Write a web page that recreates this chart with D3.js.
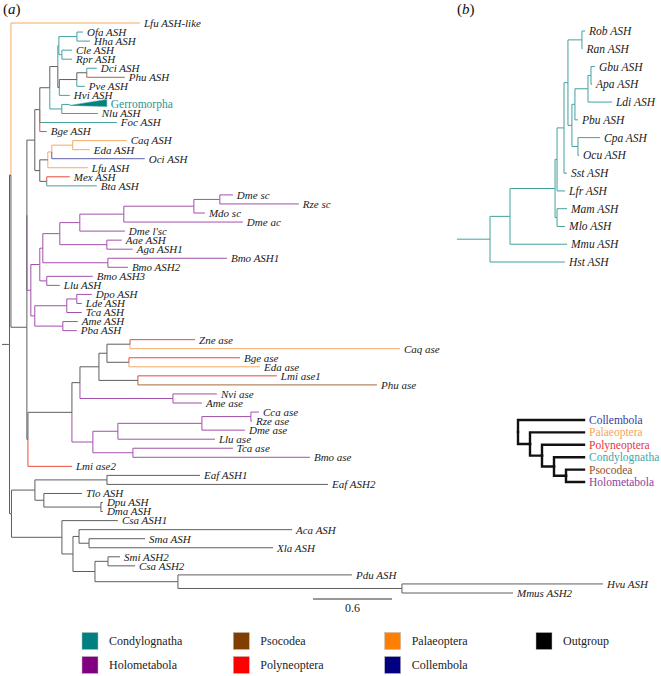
<!DOCTYPE html>
<html><head><meta charset="utf-8">
<script src="https://cdn.jsdelivr.net/npm/d3@7"></script>
<style>
body{margin:0;background:#fff;}
svg{display:block;}
text{font-family:"Liberation Serif","Times New Roman",Times,serif;}
</style></head><body>
<svg id="c" width="661" height="676" font-family="Liberation Serif, Times New Roman, serif"></svg>
<script>
// ================= DATA =================
// group codes: C Condylognatha, H Holometabola, P Psocodea, N Polyneoptera, L Palaeoptera, B Collembola, O Outgroup
// tree (a): [node, parent, branch length (subst./site), group]
const treeA = [
 ["rA","",0,"O"],
 ["n1","rA",0.011,"O"],
 ["Lfu ASH-like","n1",0.980,"L"],
 ["n2","n1",0.121,"O"],
 ["m","n2",0.000,"O"],
 ["i","m",0.060,"O"],
 ["p40","i",0.038,"O"],
 ["p50","p40",0.076,"O"],
 ["c1","p50",0.061,"O"],
 ["ohcr","c1",0.008,"C"],
 ["oh","ohcr",0.137,"C"],
 ["Ofa ASH","oh",0.046,"C"],
 ["Hha ASH","oh",0.099,"C"],
 ["cr","ohcr",0.023,"C"],
 ["Cle ASH","cr",0.076,"C"],
 ["Rpr ASH","cr",0.076,"C"],
 ["dpph","c1",0.011,"O"],
 ["dpp","dpph",0.133,"O"],
 ["dp","dpp",0.076,"O"],
 ["Dci ASH","dp",0.076,"C"],
 ["Phu ASH","dp",0.289,"P"],
 ["Pve ASH","dpp",0.061,"C"],
 ["Hvi ASH","dpph",0.080,"C"],
 ["gn","p50",0.091,"C"],
 ["Gerromorpha","gn",0.061,"C"],
 ["Nlu ASH","gn",0.273,"C"],
 ["Foc ASH","p40",0.585,"C"],
 ["Bge ASH","p40",0.053,"N"],
 ["q","i",0.038,"O"],
 ["l","q",0.061,"O"],
 ["ceo","l",0.030,"L"],
 ["ce","ceo",0.159,"L"],
 ["Caq ASH","ce",0.410,"L"],
 ["Eda ASH","ce",0.129,"L"],
 ["Oci ASH","ceo",0.706,"B"],
 ["Lfu ASH","l",0.304,"L"],
 ["mb","q",0.053,"O"],
 ["Mex ASH","mb",0.175,"N"],
 ["Bta ASH","mb",0.380,"C"],
 ["h","m",0.030,"H"],
 ["h1","h",0.068,"H"],
 ["h43","h1",0.023,"H"],
 ["h60","h43",0.129,"H"],
 ["h80","h60",0.152,"H"],
 ["h124","h80",0.334,"H"],
 ["drm","h124",0.532,"H"],
 ["dr","drm",0.197,"H"],
 ["Dme sc","dr",0.099,"H"],
 ["Rze sc","dr",0.600,"H"],
 ["Mdo sc","drm",0.084,"H"],
 ["Dme ac","h124",0.904,"H"],
 ["Dme l'sc","h80",0.342,"H"],
 ["aa","h60",0.357,"H"],
 ["Aae ASH","aa",0.114,"H"],
 ["Aga ASH1","aa",0.197,"H"],
 ["bb","h43",0.494,"H"],
 ["Bmo ASH1","bb",0.904,"H"],
 ["Bmo ASH2","bb",0.152,"H"],
 ["bl","h1",0.053,"H"],
 ["Bmo ASH3","bl",0.349,"H"],
 ["Llu ASH","bl",0.099,"H"],
 ["h2","h",0.030,"H"],
 ["dlt","h2",0.243,"H"],
 ["dl","dlt",0.076,"H"],
 ["Dpo ASH","dl",0.114,"H"],
 ["Lde ASH","dl",0.038,"H"],
 ["Tca ASH","dlt",0.114,"H"],
 ["ap","h2",0.213,"H"],
 ["Ame ASH","ap",0.114,"H"],
 ["Pba ASH","ap",0.106,"H"],
 ["al","n2",0.008,"O"],
 ["ase","al",0.334,"O"],
 ["x2","ase",0.061,"O"],
 ["x1","x2",0.144,"O"],
 ["zcbe","x1",0.061,"O"],
 ["zc","zcbe",0.175,"O"],
 ["Zne ase","zc",0.494,"N"],
 ["Caq ase","zc",2.050,"L"],
 ["be","zcbe",0.167,"O"],
 ["Bge ase","be",0.843,"N"],
 ["Eda ase","be",0.995,"L"],
 ["lp","x1",0.296,"O"],
 ["Lmi ase1","lp",1.055,"N"],
 ["Phu ase","lp",1.815,"P"],
 ["na","x2",0.706,"H"],
 ["Nvi ase","na",0.334,"H"],
 ["Ame ase","na",0.220,"H"],
 ["lo","ase",0.159,"H"],
 ["lcrdl","lo",0.190,"H"],
 ["crd","lcrdl",0.638,"H"],
 ["cr2","crd",0.372,"H"],
 ["Cca ase","cr2",0.061,"H"],
 ["Rze ase","cr2",0.008,"H"],
 ["Dme ase","crd",0.327,"H"],
 ["Llu ase","lcrdl",0.737,"H"],
 ["tb","lo",0.304,"H"],
 ["Tca ase","tb",0.759,"H"],
 ["Bmo ase","tb",1.344,"H"],
 ["Lmi ase2","al",0.334,"N"],
 ["o","rA",0.015,"O"],
 ["e","o",0.178,"O"],
 ["ee","e",0.547,"O"],
 ["Eaf ASH1","ee",0.706,"O"],
 ["Eaf ASH2","ee",1.678,"O"],
 ["t","e",0.068,"O"],
 ["Tlo ASH","t",0.289,"O"],
 ["dd","t",0.433,"O"],
 ["Dpu ASH","dd",0.015,"O"],
 ["Dma ASH","dd",0.015,"O"],
 ["cv","o",0.383,"O"],
 ["Csa ASH1","cv",0.425,"O"],
 ["v","cv",0.084,"O"],
 ["w","v",0.046,"O"],
 ["Aca ASH","w",1.617,"O"],
 ["sx","w",0.076,"O"],
 ["Sma ASH","sx",0.425,"O"],
 ["Xla ASH","sx",1.397,"O"],
 ["z","v",0.167,"O"],
 ["sc","z",0.099,"O"],
 ["Smi ASH2","sc",0.091,"O"],
 ["Csa ASH2","sc",0.205,"O"],
 ["phm","z",0.630,"O"],
 ["Pdu ASH","phm",1.321,"O"],
 ["hm","phm",1.701,"O"],
 ["Hvu ASH","hm",1.526,"O"],
 ["Mmus ASH2","hm",0.843,"O"]
];
const rootBranchA = 0.057;
// collapsed clades: [name, clade depth]
const collapsedA = [["Gerromorpha", 0.281]];

// tree (b): [node, parent, branch length]
const treeB = [
 ["rB","",0],
 ["s4","rB",0.152],
 ["s3","s4",0.342],
 ["s2p","s3",0.015],
 ["s2","s2p",0.053],
 ["s1","s2",0.030],
 ["rr","s1",0.106],
 ["Rob ASH","rr",0.023],
 ["Ran ASH","rr",0.004],
 ["gc","s1",0.030],
 ["galp","gc",0.023],
 ["gal","galp",0.099],
 ["ga","gal",0.023],
 ["Gbu ASH","ga",0.030],
 ["Apa ASH","ga",0.008],
 ["Ldi ASH","gal",0.182],
 ["Pbu ASH","galp",0.023],
 ["co","gc",0.046],
 ["Cpa ASH","co",0.167],
 ["Ocu ASH","co",0.008],
 ["Sst ASH","s2",0.023],
 ["Lfr ASH","s2p",0.061],
 ["mm","s3",0.015],
 ["Mam ASH","mm",0.076],
 ["Mlo ASH","mm",0.061],
 ["Mmu ASH","s4",0.433],
 ["Hst ASH","rB",0.569]
];
const rootBranchB = 0.251;

// inset cladogram of insect groups
const insetTree = [
 ["k0",""],["Collembola","k0"],["k1","k0"],["Palaeoptera","k1"],["k2","k1"],
 ["Polyneoptera","k2"],["k3","k2"],["Condylognatha","k3"],["k4","k3"],
 ["Psocodea","k4"],["Holometabola","k4"]
];

// legend
const legendNames = ["Condylognatha","Holometabola","Psocodea","Polyneoptera","Palaeoptera","Collembola","Outgroup"];
const legendCodes = ["C","H","P","N","L","B","O"];
const scaleBarValue = 0.6;

// ================= STYLE =================
const FONT = "Liberation Serif, Times New Roman, serif";
const solidColor = {C:"#008080",H:"#800080",P:"#7f3f00",N:"#ff0000",L:"#ff8000",B:"#000080",O:"#000000"};
const lineColor  = {C:"#45a0a0",H:"#a250aa",P:"#a8683c",N:"#ea4a3c",L:"#f5aa62",B:"#5c5ca8",O:"#5e5e5e"};
const insetTextColor = {Collembola:"#3a3a9c",Palaeoptera:"#f3a462",Polyneoptera:"#e6363c",Condylognatha:"#46a6a6",Psocodea:"#90522a",Holometabola:"#8e3e9e"};

const svg = d3.select("#c");

function layoutTree(rows, yScale){
  const root = d3.stratify().id(d=>d[0]).parentId(d=>d[1]===""?null:d[1])(rows);
  root.eachBefore(n=>{ n.dist = n.parent ? n.parent.dist + n.data[2] : 0; });
  root.leaves().forEach((l,i)=>{ l.yy = yScale(i); });
  root.eachAfter(n=>{ if(n.children){ n.yy = (n.children[0].yy + n.children[n.children.length-1].yy)/2; }});
  return root;
}

// ---------- tree (a) ----------
const rootA = layoutTree(treeA, d3.scaleLinear().domain([0,63]).range([23,593]));
const xA = d3.scaleLinear().domain([0,1]).range([9.5,141.2]);
const collapsedMap = new Map(collapsedA);
const gA = svg.append("g");

const linksA = rootA.descendants().filter(n=>n.parent);
linksA.sort((a,b)=>(a.data[3]==="O")-(b.data[3]==="O"));
gA.append("line").attr("x1",xA(-rootBranchA)).attr("x2",xA(0))
  .attr("y1",rootA.yy).attr("y2",rootA.yy).attr("stroke",lineColor.O).attr("stroke-width",1);
gA.selectAll("path.br").data(linksA).join("path").attr("class","br")
  .attr("d",n=>`M${xA(n.parent.dist)},${n.parent.yy}V${n.yy}H${xA(n.dist)}`)
  .attr("fill","none").attr("stroke",n=>lineColor[n.data[3]]).attr("stroke-width",1);

const leavesA = rootA.leaves();
gA.selectAll("path.tri").data(leavesA.filter(n=>collapsedMap.has(n.id))).join("path").attr("class","tri")
  .attr("d",n=>{const x0=xA(n.dist), x1=xA(n.dist+collapsedMap.get(n.id));
    return `M${x0},${n.yy+1}L${x1},${n.yy-5}L${x1},${n.yy+2}Z`;})
  .attr("fill",solidColor.C).attr("stroke",lineColor.C).attr("stroke-width",0.6);

gA.selectAll("text.lab").data(leavesA).join("text").attr("class","lab")
  .attr("x",n=>xA(n.dist + (collapsedMap.get(n.id)||0)) + 4)
  .attr("y",n=>n.yy).attr("dy","0.35em")
  .attr("font-family",FONT)
  .attr("font-size",n=>collapsedMap.has(n.id)?11.5:11)
  .attr("font-style",n=>collapsedMap.has(n.id)?"normal":"italic")
  .attr("fill",n=>collapsedMap.has(n.id)?"#2a9494":"#1a1a1a")
  .text(n=>n.id);

// scale bar
const sbX = 313, sbY = 599;
svg.append("line").attr("x1",sbX).attr("x2",sbX + (xA(scaleBarValue)-xA(0)))
  .attr("y1",sbY).attr("y2",sbY).attr("stroke","#333").attr("stroke-width",1);
svg.append("text").attr("x",sbX + (xA(scaleBarValue)-xA(0))/2).attr("y",sbY+13)
  .attr("font-family",FONT)
  .attr("text-anchor","middle").attr("font-size",12).attr("fill","#222").text(String(scaleBarValue));

// panel labels
function panelLabel(x,y,letter){
  const t = svg.append("text").attr("x",x).attr("y",y).attr("font-family",FONT).attr("font-size",15).attr("fill","#111");
  t.append("tspan").text("(");
  t.append("tspan").attr("font-style","italic").text(letter);
  t.append("tspan").text(")");
}
panelLabel(3,14,"a");
panelLabel(457,14,"b");

// ---------- tree (b) ----------
const rootB = layoutTree(treeB, d3.scaleLinear().domain([0,13]).range([31,262]));
const xB = d3.scaleLinear().domain([0,1]).range([490,621.7]);
const gB = svg.append("g");
gB.append("line").attr("x1",xB(-rootBranchB)).attr("x2",xB(0))
  .attr("y1",rootB.yy).attr("y2",rootB.yy).attr("stroke",lineColor.C).attr("stroke-width",1);
gB.selectAll("path").data(rootB.descendants().filter(n=>n.parent)).join("path")
  .attr("d",n=>`M${xB(n.parent.dist)},${n.parent.yy}V${n.yy}H${xB(n.dist)}`)
  .attr("fill","none").attr("stroke",lineColor.C).attr("stroke-width",1);
gB.selectAll("text").data(rootB.leaves()).join("text")
  .attr("x",n=>xB(n.dist)+4).attr("y",n=>n.yy).attr("dy","0.35em")
  .attr("font-family",FONT)
  .attr("font-size",11.5).attr("font-style","italic").attr("fill","#1a1a1a").text(n=>n.id);

// ---------- inset cladogram ----------
const rootI = d3.stratify().id(d=>d[0]).parentId(d=>d[1]===""?null:d[1])(insetTree);
const yI = d3.scaleLinear().domain([0,5]).range([420,482]);
const xI = d3.scaleLinear().domain([0,5.5]).range([518,584]);
rootI.leaves().forEach((l,i)=>{ l.yy = yI(i); l.xx = xI(5.5); });
rootI.eachAfter(n=>{ if(n.children){ n.yy=(n.children[0].yy+n.children[n.children.length-1].yy)/2; n.xx = xI(n.depth);} });
const gI = svg.append("g");
gI.selectAll("path").data(rootI.descendants().filter(n=>n.parent)).join("path")
  .attr("d",n=>`M${n.parent.xx},${n.parent.yy}V${n.yy}H${n.xx}`)
  .attr("fill","none").attr("stroke","#111").attr("stroke-width",2.4).attr("stroke-linecap","square");
gI.selectAll("text").data(rootI.leaves()).join("text")
  .attr("x",n=>n.xx+5).attr("y",n=>n.yy).attr("dy","0.35em")
  .attr("font-family",FONT)
  .attr("font-size",11.5).attr("fill",n=>insetTextColor[n.id]).text(n=>n.id);

// ---------- bottom legend ----------
const colX = d3.scaleLinear().domain([0,3]).range([82,536]);
const rowY = d3.scaleLinear().domain([0,1]).range([641,665]);
const gL = svg.append("g");
const items = legendNames.map((nm,i)=>({nm, code:legendCodes[i], col:Math.floor(i/2), row:i%2}));
const it = gL.selectAll("g").data(items).join("g")
  .attr("transform",d=>`translate(${colX(d.col)},${rowY(d.row)})`);
it.append("rect").attr("x",0).attr("y",-8.5).attr("width",16).attr("height",17)
  .attr("fill",d=>solidColor[d.code]).attr("stroke","#bbb").attr("stroke-width",0.5);
it.append("text").attr("x",27).attr("y",0).attr("dy","0.35em")
  .attr("font-family",FONT)
  .attr("font-size",12).attr("fill","#222").text(d=>d.nm);
</script>
</body></html>
